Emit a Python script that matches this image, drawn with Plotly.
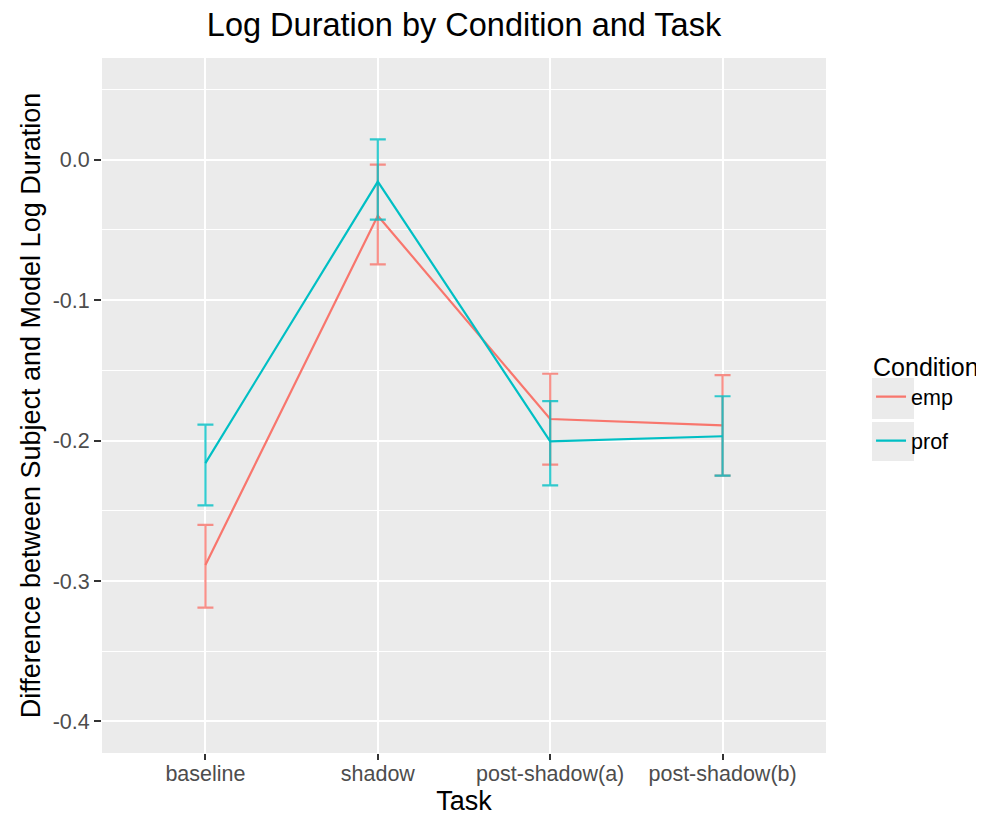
import plotly.graph_objects as go

tasks = ["baseline", "shadow", "post-shadow(a)", "post-shadow(b)"]

emp_mean = [-0.2886, -0.0398, -0.1846, -0.1891]
emp_upper = [-0.2600, -0.0034, -0.1524, -0.1534]
emp_lower = [-0.3190, -0.0745, -0.2171, -0.2250]

prof_mean = [-0.2160, -0.0155, -0.2005, -0.1969]
prof_upper = [-0.1886, 0.0145, -0.1719, -0.1684]
prof_lower = [-0.2462, -0.0426, -0.2319, -0.2250]

y_tick_vals = [0.0, -0.1, -0.2, -0.3, -0.4]
y_tick_text = ["0.0", "-0.1", "-0.2", "-0.3", "-0.4"]

EMP = "#F8766D"
PROF = "#00BFC4"

def trace(name, mean, upper, lower, color, err_color, group):
    return go.Scatter(
        x=tasks, y=mean, mode="lines", name=name, legendgroup=group,
        line=dict(color=color, width=2.2),
        error_y=dict(type="data", symmetric=False,
                     array=[u - m for u, m in zip(upper, mean)],
                     arrayminus=[m - l for m, l in zip(mean, lower)],
                     color=err_color, thickness=2.2, width=8),
    )

fig = go.Figure()
fig.add_trace(trace("emp", emp_mean, emp_upper, emp_lower, EMP, "rgba(248,118,109,0.8)", "g1"))
fig.add_trace(trace("prof", prof_mean, prof_upper, prof_lower, PROF, "rgba(0,191,196,0.8)", "g2"))

FONT = "Liberation Sans, Arial, Helvetica, sans-serif"

# legend key backgrounds (paper coords)
for y0, y1 in [(0.4806, 0.5396), (0.4201, 0.4763)]:
    fig.add_shape(type="rect", xref="paper", yref="paper", x0=1.0635, x1=1.1215,
                  y0=y0, y1=y1, fillcolor="#EBEBEB", line=dict(width=0), layer="below")

# page body has an 8px margin, so the figure is drawn 8px in from the top-left
fig.update_layout(
    width=976, height=808,
    margin=dict(l=94, r=158, t=50, b=63, autoexpand=False),
    paper_bgcolor="white", plot_bgcolor="#EBEBEB",
    font=dict(family=FONT, color="black"),
    title=dict(text="Log Duration by Condition and Task", x=0.5, xref="paper",
               y=1 - 17 / 808, yref="container", xanchor="center", yanchor="middle",
               font=dict(size=32.5, color="black")),
    xaxis=dict(
        title=dict(text="Task", font=dict(size=27, color="black"), standoff=5),
        automargin=False,
        range=[-0.6, 3.6], showgrid=True, gridcolor="white", gridwidth=2,
        zeroline=False, ticks="outside", ticklen=6, tickwidth=1.5, tickcolor="#333333",
        tickfont=dict(size=21.5, color="#4D4D4D"), showline=False,
        ticklabelstandoff=-5,
    ),
    yaxis=dict(
        title=dict(text="Difference between Subject and Model Log Duration",
                   font=dict(size=27, color="black"), standoff=4),
        automargin=False,
        range=[-0.4225, 0.0725], tickvals=y_tick_vals, ticktext=y_tick_text,
        showgrid=True, gridcolor="white", gridwidth=2, zeroline=False,
        ticks="outside", ticklen=7, tickwidth=1.5, tickcolor="#333333",
        tickfont=dict(size=21.5, color="#4D4D4D"), showline=False,
        minor=dict(dtick=0.05, tick0=0, showgrid=True, gridcolor="white", gridwidth=1),
    ),
    legend=dict(
        title=dict(text="Condition", font=dict(size=25, color="black")),
        font=dict(size=21.5, color="black"),
        x=1.0622, xanchor="left", y=0.589, yanchor="top",
        bgcolor="rgba(0,0,0,0)", tracegroupgap=13,
    ),
    showlegend=True,
)

fig.write_html("out.html")
